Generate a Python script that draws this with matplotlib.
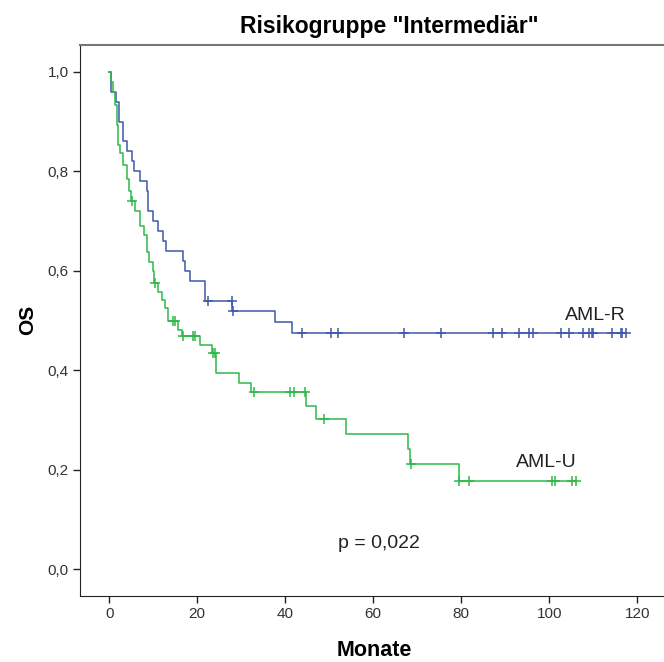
import numpy as np
import matplotlib
matplotlib.use("Agg")
import matplotlib.pyplot as plt

plt.rcParams['font.family'] = ['Liberation Sans', 'DejaVu Sans']

# AML-R: event times (Monate) and survival after each step
r_t = [0, 0.3, 1.5, 2.3, 3.1, 4.0, 5.1, 5.6, 6.9, 8.5, 8.9, 10.0, 11.0, 12.3, 12.8,
       16.7, 17.2, 18.4, 21.8, 28.0, 37.6, 41.6]
r_s = [1.0, 0.96, 0.94, 0.90, 0.86, 0.84, 0.82, 0.80, 0.78, 0.76, 0.72, 0.70, 0.68,
       0.66, 0.64, 0.62, 0.60, 0.58, 0.54, 0.52, 0.497, 0.474]
r_cens = [22.4, 27.9, 28.1, 43.8, 50.3, 52.1, 67.1, 75.3, 87.3, 89.2, 93.2, 95.5, 96.3,
          102.7, 104.6, 107.6, 109.1, 109.7, 110.0, 114.2, 116.3, 116.6, 117.4]

# AML-U
u_t = [0, 0.3, 0.9, 1.3, 1.7, 2.1, 2.5, 3.2, 4.0, 4.5, 5.0, 5.9, 7.0, 7.8, 8.5, 9.1,
       9.9, 10.2, 11.2, 11.9, 12.7, 13.4, 15.7, 16.5, 20.6, 23.3, 24.3, 29.4, 32.2,
       44.7, 47.0, 53.8, 67.8, 68.3, 79.4]
u_s = [1.0, 0.98, 0.96, 0.934, 0.893, 0.853, 0.837, 0.813, 0.785, 0.76, 0.74, 0.72,
       0.69, 0.672, 0.638, 0.618, 0.60, 0.576, 0.558, 0.541, 0.525, 0.50, 0.481, 0.469,
       0.45, 0.434, 0.394, 0.375, 0.356, 0.328, 0.302, 0.272, 0.241, 0.211, 0.178]
u_cens = [5.1, 10.4, 14.4, 15.0, 16.7, 19.1, 19.5, 23.6, 24.0, 32.8, 41.2, 42.1, 44.6,
          48.9, 68.7, 79.6, 81.8, 100.6, 101.3, 105.2, 106.0]

col_r = '#3e58ac'
col_u = '#2eb848'

W, H = 664, 662
fig = plt.figure(figsize=(W / 100, H / 100), dpi=100)
ax = fig.add_axes([80 / W, (H - 596) / H, (W - 80) / W, 551 / H])


def km(ax, t, s, cens, col):
    t = np.array(t)
    s = np.array(s)
    cens = np.array(cens)
    tt = np.append(t, cens.max())
    ss = np.append(s, s[-1])
    ax.step(tt, ss, where='post', color=col, lw=1.1)
    idx = np.searchsorted(t, cens, side='right') - 1
    ax.plot(cens, s[idx], ls='none', marker='+', ms=7, mew=1.1, color=col)


km(ax, r_t, r_s, r_cens, col_r)
km(ax, u_t, u_s, u_cens, col_u)

ax.set_xlim(-6.64, 126.1)
ax.set_ylim(-0.054, 1.054)
ax.set_xticks([0, 20, 40, 60, 80, 100, 120])
ax.set_yticks([0, 0.2, 0.4, 0.6, 0.8, 1.0])
ax.set_yticklabels(['0,0', '0,2', '0,4', '0,6', '0,8', '1,0'])
ax.tick_params(direction='out', length=5, width=1, colors='#222222',
               labelsize=11, labelcolor='#333333', pad=3)
ax.spines['right'].set_visible(False)
for sp in ['left', 'bottom']:
    ax.spines[sp].set_color('#222222')
ax.spines['top'].set_color('#777777')
ax.spines['top'].set_linewidth(1.5)

ax.text(117.5, 0.51, 'AML-R', ha='right', va='center', fontsize=14, color='#222222')
ax.text(106.3, 0.215, 'AML-U', ha='right', va='center', fontsize=14, color='#222222')
ax.text(61.3, 0.052, 'p = 0,022', ha='center', va='center', fontsize=14, color='#222222')

fig.text(389 / W, 1 - 27 / H, 'Risikogruppe "Intermediär"', ha='center', va='center',
         fontsize=16.5, fontweight='bold')
fig.text(374 / W, 1 - 650 / H, 'Monate', ha='center', va='center',
         fontsize=15.5, fontweight='bold')
fig.text(28 / W, 1 - 320 / H, 'OS', ha='center', va='center', rotation=90,
         fontsize=15, fontweight='bold')

fig.savefig('out.png', dpi=100)
